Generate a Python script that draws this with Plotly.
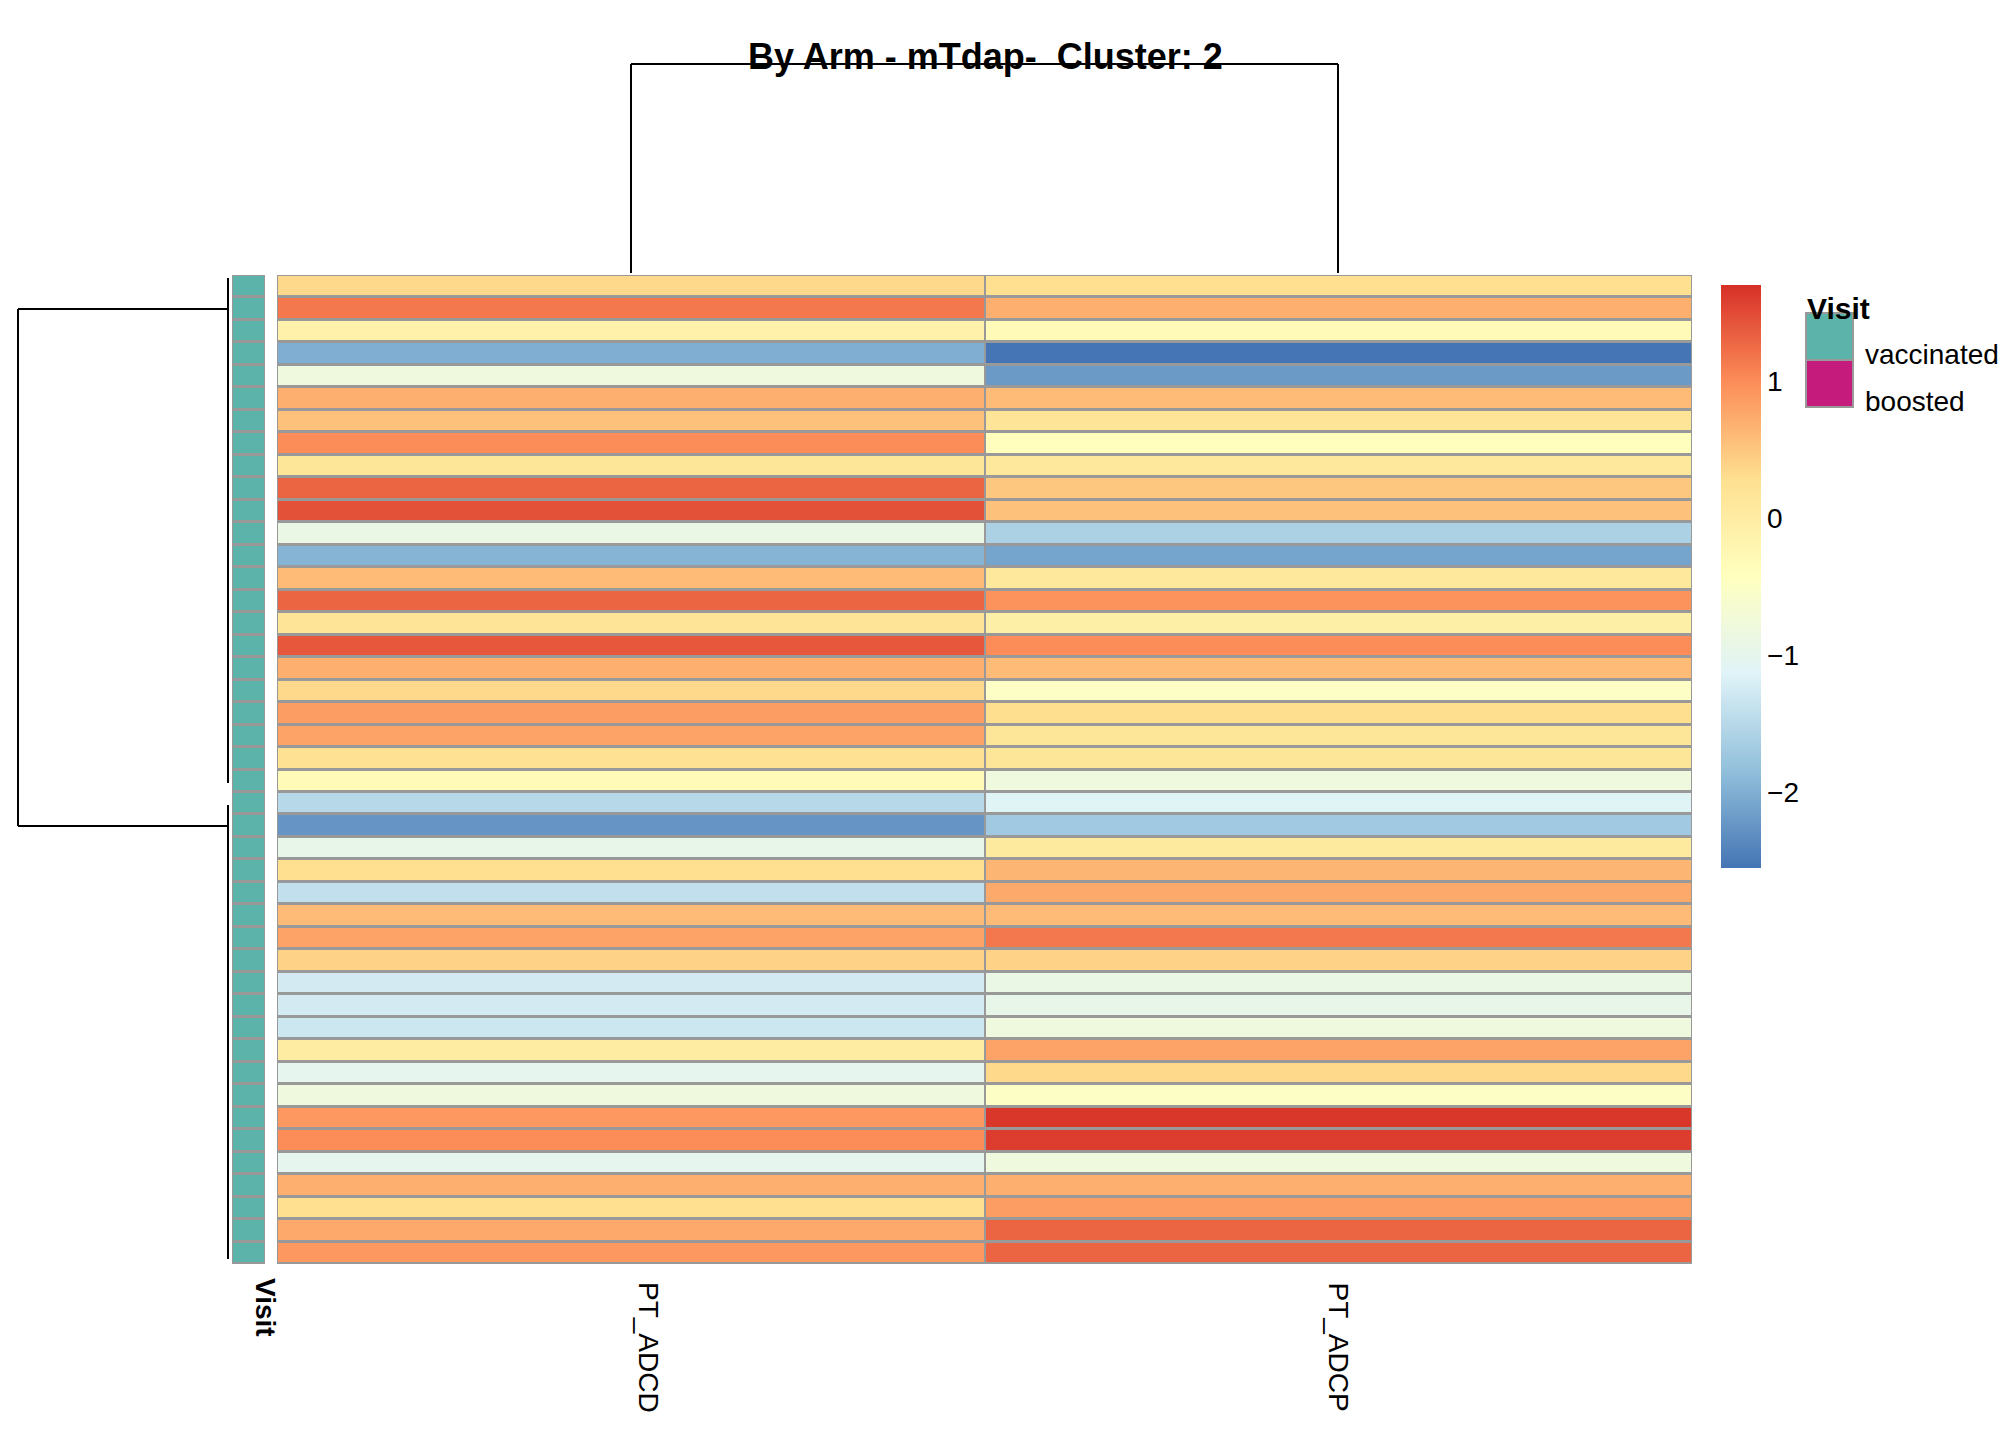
import plotly.graph_objects as go

W, H = 2016, 1440

columns = ["PT_ADCD", "PT_ADCP"]

# scaled values, top row first
adcd = [0.35, 1.15, -0.1, -2.0, -0.8, 0.7, 0.55, 1.0, 0.15, 1.3, 1.45, -0.9, -1.95, 0.6, 1.3,
        0.2, 1.4, 0.7, 0.35, 0.85, 0.8, 0.25, -0.3, -1.5, -2.25, -0.95, 0.28, -1.4, 0.6, 0.8,
        0.4, -1.25, -1.25, -1.3, 0.0, -1.0, -0.8, 0.9, 1.0, -1.0, 0.7, 0.28, 0.75, 0.9]
adcp = [0.28, 0.7, -0.3, -2.55, -2.2, 0.6, 0.2, -0.4, 0.1, 0.5, 0.55, -1.6, -2.1, 0.1, 0.95,
        -0.05, 1.0, 0.6, -0.5, 0.3, 0.15, 0.15, -0.8, -1.1, -1.7, 0.05, 0.65, 0.75, 0.6, 1.15,
        0.4, -0.9, -0.95, -0.8, 0.8, 0.35, -0.5, 1.65, 1.6, -0.8, 0.7, 0.85, 1.3, 1.3]
visit = ["vaccinated"] * len(adcd)

rows = list(range(len(adcd)))
z = [[a, b] for a, b in zip(adcd, adcp)]

zmin, zmax = -2.55, 1.70
palette = ["#4575B4", "#91BFDB", "#E0F3F8", "#FFFFBF", "#FEE090", "#FC8D59", "#D73027"]
cscale = [[i / 6, c] for i, c in enumerate(palette)]

def px(x):
    return x / W

def py(y):
    return 1 - y / H

fig = go.Figure()
fig.add_trace(go.Heatmap(
    z=z, x=columns, y=rows, zmin=zmin, zmax=zmax, colorscale=cscale,
    xgap=2, ygap=3, xaxis="x", yaxis="y",
    colorbar=dict(x=px(1703), xanchor="left", y=py(267), yanchor="top",
                  len=(870 - 267) / H, lenmode="fraction", thickness=40,
                  outlinewidth=0, tickvals=[1, 0, -1, -2], ticks="",
                  tickfont=dict(size=28, family="Liberation Sans", color="black")),
))
visit_colors = {"vaccinated": "#5BB3A9", "boosted": "#C51B7D"}
fig.add_trace(go.Heatmap(
    z=[[0] for _ in visit], x=["Visit"], y=rows, showscale=False,
    colorscale=[[0, visit_colors["vaccinated"]], [1, visit_colors["vaccinated"]]],
    xgap=2, ygap=3, xaxis="x2", yaxis="y", hoverinfo="skip",
))

ax = dict(showgrid=False, zeroline=False, showticklabels=False, ticks="")
fig.update_layout(
    width=W, height=H, margin=dict(l=0, r=0, t=0, b=0),
    paper_bgcolor="white", plot_bgcolor="#999999",
    font=dict(family="Liberation Sans", color="black"),
    xaxis=dict(domain=[px(269), px(1684)], **ax),
    xaxis2=dict(domain=[px(224), px(257)], **ax),
    yaxis=dict(domain=[py(1256), py(267)], autorange="reversed", **ax),
    showlegend=False,
)

line = dict(color="black", width=2)
# column dendrogram
for x0, y0, x1, y1 in [(623, 56, 1330, 56), (623, 56, 623, 265), (1330, 56, 1330, 265)]:
    fig.add_shape(type="line", xref="paper", yref="paper", x0=px(x0), y0=py(y0), x1=px(x1), y1=py(y1), line=line)
# row dendrogram
for x0, y0, x1, y1 in [(10, 301, 10, 818), (10, 301, 220, 301), (10, 818, 220, 818),
                       (220, 270, 220, 775), (220, 797, 220, 1251)]:
    fig.add_shape(type="line", xref="paper", yref="paper", x0=px(x0), y0=py(y0), x1=px(x1), y1=py(y1), line=line)

fig.add_annotation(text="<b>By Arm - mTdap-  Cluster: 2</b>", x=0.485, y=py(26), xref="paper", yref="paper",
                   showarrow=False, font=dict(size=36))
for name, xc in zip(columns, [623, 1330]):
    fig.add_annotation(text=name, x=px(xc), y=py(1272), xref="paper", yref="paper", yanchor="top",
                       textangle=90, showarrow=False, font=dict(size=28))
fig.add_annotation(text="<b>Visit</b>", x=px(240), y=py(1268), xref="paper", yref="paper", yanchor="top",
                   textangle=90, showarrow=False, font=dict(size=28))

# legend
fig.add_annotation(text="<b>Visit</b>", x=px(1797), y=py(282), xref="paper", yref="paper", xanchor="left",
                   showarrow=False, font=dict(size=30))
for i, (lab, col) in enumerate(visit_colors.items()):
    top = 305 + i * 47
    fig.add_shape(type="rect", xref="paper", yref="paper", x0=px(1798), x1=px(1845),
                  y0=py(top), y1=py(top + 47), fillcolor=col, line=dict(color="#999999", width=2))
    fig.add_annotation(text=lab, x=px(1855), y=py(top + 24), xref="paper", yref="paper", xanchor="left",
                       showarrow=False, font=dict(size=28))

fig.write_html("out.html")
